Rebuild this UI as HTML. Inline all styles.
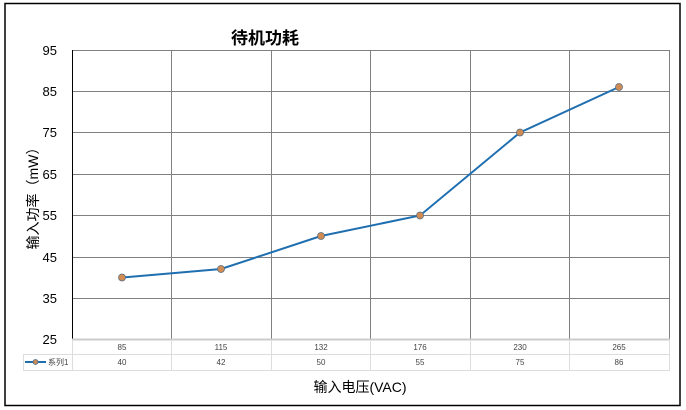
<!DOCTYPE html>
<html><head><meta charset="utf-8"><style>body{margin:0;background:#fff}svg{display:block}</style></head>
<body>
<svg width="686" height="410" xmlns="http://www.w3.org/2000/svg" font-family="Liberation Sans, Noto Sans CJK SC, sans-serif">
<rect x="5" y="3.5" width="675" height="402" fill="#fff" stroke="#000" stroke-width="1.5"/>
<text x="265" y="44" font-size="17" font-weight="bold" text-anchor="middle" fill="#000">待机功耗</text>
<g stroke="#808080" stroke-width="1">
<line x1="72" y1="50.5" x2="669" y2="50.5"/>
<line x1="72" y1="91.5" x2="669" y2="91.5"/>
<line x1="72" y1="132.5" x2="669" y2="132.5"/>
<line x1="72" y1="174.5" x2="669" y2="174.5"/>
<line x1="72" y1="215.5" x2="669" y2="215.5"/>
<line x1="72" y1="257.5" x2="669" y2="257.5"/>
<line x1="72" y1="298.5" x2="669" y2="298.5"/>
<line x1="171.5" y1="50" x2="171.5" y2="339"/>
<line x1="271.5" y1="50" x2="271.5" y2="339"/>
<line x1="370.5" y1="50" x2="370.5" y2="339"/>
<line x1="470.5" y1="50" x2="470.5" y2="339"/>
<line x1="569.5" y1="50" x2="569.5" y2="339"/>
<line x1="669.5" y1="50" x2="669.5" y2="339"/>
</g>
<line x1="72.5" y1="50" x2="72.5" y2="340" stroke="#000" stroke-width="1"/>
<line x1="72" y1="339.5" x2="670" y2="339.5" stroke="#ccc" stroke-width="2"/>
<g stroke="#ddd" stroke-width="1">
<line x1="72" y1="354.5" x2="670" y2="354.5"/>
<line x1="23" y1="354.5" x2="72" y2="354.5"/>
<line x1="23" y1="370.5" x2="670" y2="370.5"/>
<line x1="23.5" y1="354" x2="23.5" y2="371"/>
<line x1="72.5" y1="340" x2="72.5" y2="371"/>
<line x1="171.5" y1="340" x2="171.5" y2="371"/>
<line x1="271.5" y1="340" x2="271.5" y2="371"/>
<line x1="370.5" y1="340" x2="370.5" y2="371"/>
<line x1="470.5" y1="340" x2="470.5" y2="371"/>
<line x1="569.5" y1="340" x2="569.5" y2="371"/>
<line x1="669.5" y1="340" x2="669.5" y2="371"/>
</g>
<g font-size="13" text-anchor="end" fill="#000">
<text x="57" y="55">95</text><text x="57" y="96">85</text><text x="57" y="137">75</text>
<text x="57" y="179">65</text><text x="57" y="220">55</text><text x="57" y="262">45</text>
<text x="57" y="303">35</text><text x="57" y="344">25</text>
</g>
<g font-size="8" text-anchor="middle" fill="#444">
<text x="122" y="350">85</text><text x="221" y="350">115</text><text x="321" y="350">132</text>
<text x="420" y="350">176</text><text x="520" y="350">230</text><text x="619" y="350">265</text>
<text x="122" y="365">40</text><text x="221" y="365">42</text><text x="321" y="365">50</text>
<text x="420" y="365">55</text><text x="520" y="365">75</text><text x="619" y="365">86</text>
</g>
<line x1="25" y1="362" x2="46" y2="362" stroke="#1f6fb0" stroke-width="2"/>
<circle cx="35.5" cy="362" r="2.5" fill="#c98a55" stroke="#4a6a8a" stroke-width="0.8"/>
<text x="48" y="365" font-size="8" fill="#444">系列1</text>
<polyline points="122,277.5 221,269 321,236 420,215.5 520,132.5 619,87" fill="none" stroke="#1f6fb0" stroke-width="2"/>
<g fill="#d08c52" stroke="#5a6c80" stroke-width="0.8">
<circle cx="122" cy="277.5" r="3.5"/><circle cx="221" cy="269" r="3.5"/><circle cx="321" cy="236" r="3.5"/>
<circle cx="420" cy="215.5" r="3.5"/><circle cx="520" cy="132.5" r="3.5"/><circle cx="619" cy="87" r="3.5"/>
</g>
<text x="360" y="392" font-size="14" text-anchor="middle" fill="#000">输入电压(VAC)</text>
<text transform="translate(38,195) rotate(-90)" font-size="14" text-anchor="middle" fill="#000">输入功率（mW）</text>
</svg>
</body></html>
